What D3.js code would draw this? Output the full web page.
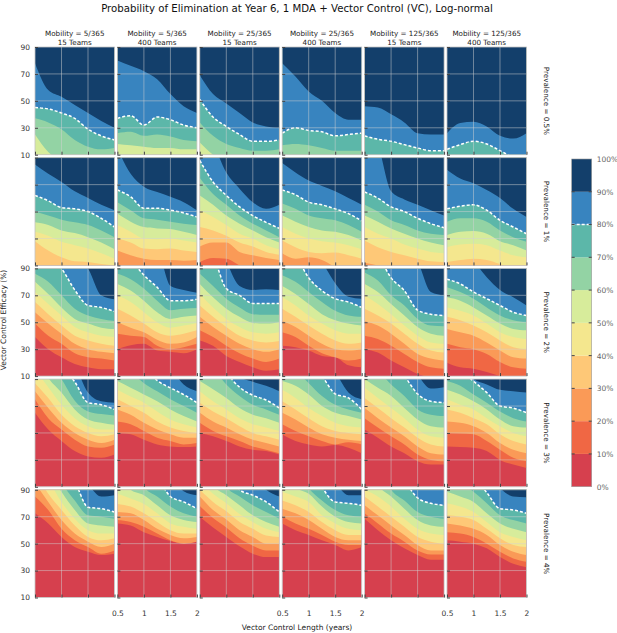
<!DOCTYPE html>
<html>
<head>
<meta charset="utf-8">
<script src="https://cdn.jsdelivr.net/npm/d3@7"></script>
<style>
	body { margin: 0; background: #fff; }
	text { font-family: "DejaVu Sans", sans-serif; }
</style>
</head>
<body>
<div id="chart"></div>
<script>
//sample points along the vector control length axis (years)
var vcLength = [0.5, 0.75, 1, 1.25, 1.5, 1.75, 2];
var levels = [0, 10, 20, 30, 40, 50, 60, 70, 80, 90, 100];
var bandColors = ["#d6404e", "#f06744", "#fa9a57", "#fec877", "#f4e78e",
	"#d7ec9b", "#93d3a4", "#5cb7a9", "#3884bf", "#133f6b"];
var mobility = ["5/365", "5/365", "25/365", "25/365", "125/365", "125/365"];
var teams = ["15", "400", "15", "400", "15", "400"];
var prevalence = ["0.5%", "1%", "2%", "3%", "4%"];
var xTicks = [0.5, 1, 1.5, 2];
var yTicks = [10, 30, 50, 70, 90];

//efficacy (%) where the probability crosses 10%,20%,...,90%, one list per threshold
//an empty list means the whole panel is above that threshold
var prev05 = [
	[[], [], [], [], [], [25, 12, 5, 0, 0, 0, 0], [37, 34, 29, 21, 16, 14, 15], [45, 44, 41, 37, 29, 24, 21], [78, 58, 53, 47, 41, 35, 30]],
	[[], [], [], [], [], [18, 17, 16, 15, 15, 14, 14], [26, 27, 24, 25, 23.5, 21, 20], [37, 39, 32, 38, 36, 32, 30], [80, 76, 72, 66, 55, 46, 41]],
	[[], [], [], [], [], [19, 10, 5, 0, 0, 0, 0], [34, 24, 18, 15, 13, 13, 14], [51, 38, 31, 25, 20, 20, 21], [69, 55, 48, 41, 34, 31, 30]],
	[[], [], [], [], [], [], [17, 18, 17, 15, 13, 13, 13], [26, 30, 28, 27, 24, 25, 26], [78, 68, 57, 50, 41, 36, 36]],
	[[], [], [], [], [], [], [], [24, 21.5, 20, 17.5, 15, 13, 13], [46, 45, 40, 34, 26, 25, 25]],
	[[], [], [], [], [], [], [], [14, 17.5, 20, 18, 13, 8, 5], [26, 33.5, 34.5, 31, 24, 22, 26]]
];
var prev1 = [
	[[], [], [], [28, 21, 16, 13, 12.5, 11, 10], [35, 32, 27.5, 25, 22.5, 19, 15], [42, 40, 36, 34, 31, 27, 22], [50, 47, 44, 42, 40, 36, 31], [62, 58, 53, 52, 50, 45, 38.5], [85, 78, 72, 65, 60, 55, 51]],
	[[], [], [21, 17.5, 15, 14, 14, 13.5, 14], [30, 27, 22.5, 22, 22.5, 21, 20], [40, 35, 30, 29.5, 30, 28.5, 27], [48.5, 42.5, 38.5, 37.5, 37, 35, 32.5], [57, 51, 45, 44, 42.5, 41, 40], [66, 61, 52.5, 52.5, 51, 49, 46], [97, 78, 68.5, 64.5, 61, 57, 51]],
	[[], [12.5, 15.5, 15, 10, 5, 5, 5], [24, 27, 27, 20, 17.5, 15.5, 14], [38.5, 36, 32, 27, 24, 20, 18], [51, 46, 40, 33.5, 30, 25, 22], [62, 55, 47, 41, 36, 31, 27], [75, 63, 55, 47, 41, 36, 31], [88, 72, 62, 53.5, 47, 42, 37.5], [110, 100, 79, 67, 57, 52, 55]],
	[[], [], [19, 15, 16, 14, 9, 7, 6], [28.5, 23.5, 20, 19, 19.5, 17.5, 15], [38.5, 33.5, 30, 28, 27, 25, 22], [47, 42.5, 38.5, 36, 35, 32.5, 28.5], [56, 52, 47, 45, 43.5, 40, 35], [66, 62.5, 57, 55, 52, 48.5, 43], [86, 79, 73, 69, 65, 60, 55]],
	[[], [], [12, 10, 8, 6, 5, 5, 5], [28.5, 23.5, 20, 17.5, 15, 13, 12.5], [38.5, 33.5, 30, 25.5, 22.5, 20, 19], [47, 42.5, 37.5, 33.5, 30, 27, 25], [55, 50, 43.5, 40, 36, 33.5, 32.5], [64.5, 60, 53.5, 50, 45, 41, 38], [115, 100, 65, 59, 55, 51, 47]],
	[[], [], [], [12.5, 14, 15, 14, 11, 8, 8], [23.5, 25.5, 26, 25, 21, 17.5, 16], [32.5, 35, 35.5, 33.5, 28, 25, 21], [42.5, 45, 45, 42.5, 36, 31, 27.5], [52, 54, 55, 51, 43.5, 38.5, 33.5], [81, 74.5, 71, 66, 60, 52, 46]]
];
var prev2 = [
	[[39, 30, 24, 19, 16.5, 15, 15], [49, 40, 34, 27, 24, 23, 21.5], [57.5, 49, 41.5, 34, 30, 28, 27], [65, 56, 47.5, 40, 36.5, 34, 32.5], [72.5, 63.5, 55, 46.5, 42.5, 40, 39], [80, 71, 61, 52.5, 49, 46, 45], [86, 80, 70, 60, 55, 52.5, 51], [110, 100, 90, 74, 62.5, 61, 58], [130, 120, 110, 100, 90, 70, 67]],
	[[30, 33, 34, 29, 28, 27, 30], [41.5, 40, 39, 32.5, 30, 31.5, 34], [50, 46, 42.5, 37, 34, 35, 39], [60, 55, 49, 42.5, 40, 41.5, 44], [70, 65, 57.5, 50, 46, 47.5, 49.5], [78.5, 73.5, 66, 57.5, 52.5, 54, 55], [86, 82, 75, 66, 59, 60, 60.5], [110, 97, 85, 76, 66, 66, 67], [130, 120, 110, 105, 77, 74, 72]],
	[[36.5, 32.5, 25, 20.5, 16.5, 14, 15], [44, 39, 32.5, 27, 23, 20.5, 23], [54, 46.5, 40, 34, 30, 28, 30], [62.5, 54, 46.5, 40, 36.5, 35, 36], [71, 61, 52.5, 46.5, 42.5, 41.5, 42.5], [78.5, 68.5, 60, 54, 49.5, 49, 50], [86, 77, 67.5, 61, 56, 55.5, 55.5], [115, 100, 75, 70, 64, 64, 64], [130, 115, 95, 77, 74, 74.5, 74]],
	[[32.5, 31.5, 29, 25, 24, 18, 16.5], [42.5, 39, 32.5, 27, 24, 21.5, 23], [51, 46.5, 40, 34, 30, 29, 30], [60, 54, 47.5, 41.5, 36.5, 34, 35], [68.5, 62.5, 55, 49, 44, 41.5, 41.5], [77, 71, 63.5, 56, 51.5, 49, 47.5], [85, 80, 72.5, 65, 58.5, 55, 54], [110, 100, 83, 73.5, 67.5, 65, 61], [130, 120, 110, 95, 79, 69, 67.5]],
	[[30, 27.5, 21.5, 16.5, 11.5, 9, 8], [40, 37.5, 32.5, 26.5, 20.5, 16.5, 15.5], [51, 47.5, 41.5, 34, 26.5, 23, 21.5], [60, 55, 49, 41.5, 34, 29, 27.5], [70, 63.5, 56, 47.5, 40, 35, 34], [78.5, 72.5, 63.5, 55, 46.5, 41.5, 40], [87, 81, 70, 62.5, 52.5, 47.5, 47], [110, 100, 83, 73.5, 59, 56, 55], [130, 120, 110, 105, 95, 72.5, 70]],
	[[20, 16.5, 15.5, 13, 10, 7, 5], [34, 31.5, 30, 26.5, 20.5, 16.5, 15.5], [45, 42.5, 40, 35, 29, 24, 23], [54, 51.5, 47.5, 42.5, 36.5, 31.5, 30], [61, 58.5, 55, 49, 42.5, 39, 37.5], [68.5, 66, 61, 55, 49, 45, 44], [76, 72.5, 67.5, 61, 55, 51.5, 50], [82, 78.5, 72.5, 67.5, 62.5, 57.5, 55], [120, 110, 96, 83.5, 74, 68.5, 62.5]]
];
var prev3 = [
	[[65, 52.5, 44, 36.5, 32.5, 31.5, 34], [75, 61, 52.5, 45, 40, 39, 41.5], [81, 68.5, 57.5, 50, 45, 42.5, 45], [87, 76, 63.5, 55, 50, 47.5, 49], [97, 84, 71, 61, 55, 52.5, 52.5], [110, 91, 80, 67.5, 60, 57.5, 56], [120, 105, 90, 74, 66, 64, 63], [120, 110, 100, 88, 72.5, 71, 67.5], [130, 120, 110, 100, 80, 73.5, 72.5]],
	[[50, 49, 45, 41.5, 40, 39.5, 40], [58.5, 56.5, 51.5, 46.5, 44, 41.5, 42.5], [67.5, 63.5, 57.5, 52.5, 49, 46.5, 46.5], [75, 70, 65, 58.5, 54, 51.5, 50], [82, 77, 72.5, 66, 60, 56.5, 54], [88.5, 83.5, 78.5, 73.5, 67.5, 62.5, 58.5], [110, 96, 87, 81, 75, 70, 65], [120, 110, 100, 89, 83.5, 78.5, 72.5], [130, 120, 110, 105, 98, 86, 81]],
	[[50, 47.5, 44, 40, 37.5, 36.5, 34], [57.5, 51.5, 47.5, 44, 40, 37.5, 35], [65, 58.5, 54, 49, 45, 42.5, 40], [72.5, 66, 61, 55, 50, 47.5, 45], [81, 73.5, 67.5, 61, 56.5, 54, 51.5], [88.5, 82.5, 76, 68.5, 63.5, 61, 57.5], [110, 98, 86, 77.5, 71, 67.5, 63.5], [120, 110, 95, 84, 78, 74.5, 68.5], [130, 120, 105, 92, 88, 85, 81]],
	[[49, 44, 41.5, 40, 41, 39, 35], [56.5, 51.5, 47.5, 44, 41.5, 43, 41.5], [65, 60, 54, 49, 46.5, 45, 44], [73.5, 67.5, 61, 55, 51.5, 50, 49], [82, 76, 68.5, 62.5, 57.5, 55, 54], [88.5, 85, 78.5, 70, 65, 62.5, 60], [110, 97, 87, 77.5, 71, 67.5, 65], [120, 110, 100, 92, 79, 76, 67.5], [130, 120, 110, 105, 95, 80, 75]],
	[[52.5, 46.5, 40, 35, 29, 26.5, 26.5], [61, 54, 47.5, 41.5, 34, 30, 29], [68.5, 61, 54, 47.5, 40, 35, 34], [76, 68.5, 61, 54, 46.5, 41.5, 40], [83.5, 76, 68.5, 61, 52.5, 47.5, 46.5], [90, 83.5, 77.5, 68.5, 60, 55, 54], [110, 97, 86, 77.5, 67.5, 63.5, 62.5], [120, 110, 100, 92, 79, 73.5, 72.5], [130, 120, 110, 105, 93, 83, 84]],
	[[40, 39.5, 39, 36.5, 30, 26.5, 24], [50, 49.5, 49, 44, 37.5, 31.5, 29], [58.5, 57.5, 55, 50, 42.5, 37.5, 35], [67.5, 65, 61, 56.5, 49, 44, 41.5], [75, 71, 67.5, 61, 55, 50, 47.5], [82, 78.5, 73.5, 67.5, 60, 55, 54], [88.5, 85, 78.5, 72.5, 66, 61, 58.5], [110, 97, 88.5, 80, 70, 68.5, 65], [110, 100, 90, 86, 82, 81, 80]]
];
var prev4 = [
	[[72.5, 65, 55, 47.5, 44, 41.5, 42.5], [85, 75, 61, 52.5, 47.5, 42.5, 45], [95, 81, 67.5, 57.5, 51.5, 47.5, 50], [105, 87, 75, 63.5, 55, 52.5, 54], [110, 97, 81, 68.5, 60, 57.5, 57.5], [120, 105, 88.5, 75, 65, 63.5, 62.5], [120, 110, 95, 82, 71, 70, 68.5], [120, 110, 100, 95, 77, 76, 73.5], [130, 120, 110, 105, 94, 85, 86]],
	[[65, 63.5, 58.5, 55, 52, 50, 52.5], [67.5, 66, 62.5, 57.5, 52.5, 50, 51.5], [73.5, 72.5, 67.5, 61, 56.5, 54, 55], [79.5, 77.5, 72.5, 66, 60, 57.5, 57.5], [87, 83.5, 79.5, 72.5, 65, 62.5, 61], [110, 90, 86, 78.5, 71, 67.5, 66], [120, 110, 92, 85, 77.5, 72.5, 70], [130, 120, 110, 100, 85, 81, 76], [130, 120, 110, 105, 100, 89, 86]],
	[[70, 62, 55, 48, 42.5, 40, 40], [78, 69, 62, 54, 48.5, 45, 45], [85, 75, 68, 60, 55, 50, 50], [90, 81, 74, 66, 61, 56, 55], [97, 87, 80, 72, 66, 61, 58.5], [110, 93, 86, 78.5, 71, 66, 62.5], [120, 110, 92, 85, 78.5, 73.5, 68.5], [130, 120, 110, 90, 86, 81, 73.5], [130, 120, 110, 105, 100, 90, 85]],
	[[65, 60, 56.5, 52.5, 49, 45, 47.5], [70, 65, 61, 56.5, 51.5, 49, 49], [76, 72.5, 67.5, 61, 55, 52.5, 52.5], [82, 78.5, 73.5, 66, 60, 56.5, 56.5], [88.5, 85, 81, 71, 65, 61, 60], [110, 92, 87, 77.5, 70, 66, 65], [120, 105, 91, 82, 75, 71, 70], [130, 120, 110, 92, 81, 80, 78.5], [130, 120, 110, 105, 95, 86, 86]],
	[[68.5, 60, 52.5, 46.5, 41.5, 38, 38], [72.5, 65, 57.5, 51.5, 45, 42, 42], [78.5, 71, 63.5, 56.5, 49, 45, 45], [85, 77.5, 70, 62.5, 55, 51.5, 50], [90, 85, 77.5, 68.5, 61, 57.5, 56.5], [110, 93, 85, 76, 67.5, 63.5, 62.5], [120, 110, 90, 82, 73.5, 70, 68.5], [130, 120, 110, 97, 84, 80, 78.5], [130, 130, 130, 130, 130, 130, 130]],
	[[52.5, 51.5, 50, 46.5, 40, 35, 32.5], [58.5, 57.5, 55, 50, 44, 39, 36.5], [65, 63.5, 61, 56.5, 49, 44, 41.5], [71, 70, 67.5, 61, 54, 49, 47.5], [80, 77.5, 73.5, 66, 58.5, 55, 52.5], [88.5, 85, 81, 72.5, 65, 61, 58.5], [110, 96, 88.5, 80, 71, 67.5, 65], [120, 110, 100, 88, 76, 75, 72.5], [130, 120, 110, 100, 91, 85, 84.5]]
];

var rows = [prev05, prev1, prev2, prev3, prev4];

//add the SVG element
var svg = d3.select("#chart").append("svg")
	.attr("width", 617)
	.attr("height", 633);

//panel grid
var colBand = d3.scaleBand().domain(d3.range(6)).range([35, 526.5]).paddingInner(0.035);
var rowBand = d3.scaleBand().domain(d3.range(5)).range([47, 597.5]).paddingInner(0.027);
var pw = colBand.bandwidth(),
	ph = rowBand.bandwidth();

//set the ranges inside one panel
var x = d3.scaleLinear().domain([0.5, 2]).range([0, pw]);
var y = d3.scaleLinear().domain([10, 90]).range([ph, 0]);

var area = d3.area()
	.x(function(d, i) { return x(vcLength[i]); })
	.y0(function(d) { return y(d); })
	.y1(-10)
	.curve(d3.curveMonotoneX);
var line = d3.line()
	.x(function(d, i) { return x(vcLength[i]); })
	.y(function(d) { return y(d); })
	.curve(d3.curveMonotoneX);

rows.forEach(function(row, r) {
	row.forEach(function(panel, c) {
		var g = svg.append("g")
			.attr("transform", "translate(" + colBand(c) + "," + rowBand(r) + ")");
		var id = "clip" + r + "_" + c;
		g.append("clipPath").attr("id", id)
			.append("rect").attr("width", pw).attr("height", ph);
		var body = g.append("g").attr("clip-path", "url(#" + id + ")");

		//lowest band, then each threshold filled upwards
		body.append("rect").attr("width", pw).attr("height", ph).attr("fill", bandColors[0]);
		panel.forEach(function(t, k) {
			var vals = t.length ? t : vcLength.map(function() { return 0; });
			body.append("path").datum(vals)
				.attr("fill", bandColors[k + 1])
				.attr("d", area);
		});

		//80% contour dashed
		if (panel[7].length) {
			body.append("path").datum(panel[7])
				.attr("fill", "none")
				.attr("stroke", "#fff")
				.attr("stroke-width", 1.5)
				.attr("stroke-dasharray", "3,2")
				.attr("d", line);
		}

		//grid lines
		body.selectAll(".gx").data([1, 1.5]).enter().append("line")
			.attr("x1", function(d) { return x(d); }).attr("x2", function(d) { return x(d); })
			.attr("y1", 0).attr("y2", ph)
			.attr("stroke", "#d2d2d2").attr("stroke-opacity", 0.55).attr("stroke-width", 0.9);
		body.selectAll(".gy").data([30, 50, 70]).enter().append("line")
			.attr("y1", function(d) { return y(d); }).attr("y2", function(d) { return y(d); })
			.attr("x1", 0).attr("x2", pw)
			.attr("stroke", "#d2d2d2").attr("stroke-opacity", 0.55).attr("stroke-width", 0.9);

		//frame
		g.append("rect").attr("width", pw).attr("height", ph)
			.attr("fill", "none").attr("stroke", "#c4c4c4").attr("stroke-width", 0.8);

		//inward ticks
		var bx = g.append("g").attr("transform", "translate(0," + ph + ")")
			.call(d3.axisBottom(x).tickValues(xTicks).tickSize(-3).tickFormat(""));
		var ly = g.append("g")
			.call(d3.axisLeft(y).tickValues(yTicks).tickSize(-3).tickFormat(""));
		bx.select(".domain").remove();
		ly.select(".domain").remove();
		g.selectAll(".tick line").attr("stroke", "#444").attr("stroke-width", 1);

		//tick labels
		if (c == 0 && r % 2 == 0) {
			var ay = g.append("g")
				.call(d3.axisLeft(y).tickValues(yTicks).tickSize(0).tickPadding(5));
			ay.select(".domain").remove();
			ay.selectAll("text").attr("font-size", 7.5).attr("fill", "#333")
				.style("font-family", "DejaVu Sans");
		}
		if (r == 4 && c % 2 == 1) {
			var ax = g.append("g").attr("transform", "translate(0," + ph + ")")
				.call(d3.axisBottom(x).tickValues(xTicks).tickSize(0).tickPadding(13)
					.tickFormat(function(d) { return String(d); }));
			ax.select(".domain").remove();
			ax.selectAll("text").attr("font-size", 7.5).attr("fill", "#333")
				.style("font-family", "DejaVu Sans");
		}
	});
});

//column headers
colBand.domain().forEach(function(c) {
	var cx = colBand(c) + pw / 2;
	svg.append("text").attr("x", cx).attr("y", 35.5).attr("text-anchor", "middle")
		.attr("font-size", 7.2).attr("fill", "#222").text("Mobility = " + mobility[c]);
	svg.append("text").attr("x", cx).attr("y", 44.5).attr("text-anchor", "middle")
		.attr("font-size", 7.2).attr("fill", "#222").text(teams[c] + " Teams");
});

//row labels on the right
rowBand.domain().forEach(function(r) {
	var cy = rowBand(r) + ph / 2;
	svg.append("text")
		.attr("transform", "translate(544," + cy + ") rotate(90)")
		.attr("text-anchor", "middle")
		.attr("font-size", 7.2).attr("fill", "#222")
		.text("Prevalence = " + prevalence[r]);
});

//title and axis titles
svg.append("text").attr("x", 297).attr("y", 12).attr("text-anchor", "middle")
	.attr("font-size", 10.2).attr("fill", "#111")
	.text("Probability of Elimination at Year 6, 1 MDA + Vector Control (VC), Log-normal");
svg.append("text").attr("x", 297).attr("y", 630).attr("text-anchor", "middle")
	.attr("font-size", 7.5).attr("fill", "#222")
	.text("Vector Control Length (years)");
svg.append("text").attr("transform", "translate(6,320) rotate(-90)").attr("text-anchor", "middle")
	.attr("font-size", 7.5).attr("fill", "#222")
	.text("Vector Control Efficacy (%)");

//colorbar
var cb = d3.scaleLinear().domain([0, 100]).range([486.7, 159]);
var cbx = 571.7, cbw = 20;
var cbar = svg.append("g");
cbar.selectAll("rect").data(bandColors).enter().append("rect")
	.attr("x", cbx)
	.attr("y", function(d, i) { return cb(levels[i + 1]); })
	.attr("width", cbw)
	.attr("height", function(d, i) { return cb(levels[i]) - cb(levels[i + 1]); })
	.attr("fill", function(d) { return d; });
cbar.append("line")
	.attr("x1", cbx).attr("x2", cbx + cbw)
	.attr("y1", cb(80)).attr("y2", cb(80))
	.attr("stroke", "#fff").attr("stroke-width", 1.5).attr("stroke-dasharray", "3,2");
cbar.append("rect").attr("x", cbx).attr("y", cb(100)).attr("width", cbw)
	.attr("height", cb(0) - cb(100))
	.attr("fill", "none").attr("stroke", "#9a9a9a").attr("stroke-width", 0.6);
var cticks = levels.slice(1, -1);
cbar.selectAll(".lt").data(cticks).enter().append("line")
	.attr("x1", cbx).attr("x2", cbx + 3)
	.attr("y1", function(d) { return cb(d); }).attr("y2", function(d) { return cb(d); })
	.attr("stroke", "#444");
cbar.selectAll(".rt").data(cticks).enter().append("line")
	.attr("x1", cbx + cbw - 3).attr("x2", cbx + cbw)
	.attr("y1", function(d) { return cb(d); }).attr("y2", function(d) { return cb(d); })
	.attr("stroke", "#444");
var cax = svg.append("g").attr("transform", "translate(" + (cbx + cbw) + ",0)")
	.call(d3.axisRight(cb).tickValues(levels).tickSize(0).tickPadding(5)
		.tickFormat(function(d) { return d + "%"; }));
cax.select(".domain").remove();
cax.selectAll("text").attr("font-size", 7.5).attr("fill", "#666")
	.style("font-family", "DejaVu Sans");
</script>
</body>
</html>
